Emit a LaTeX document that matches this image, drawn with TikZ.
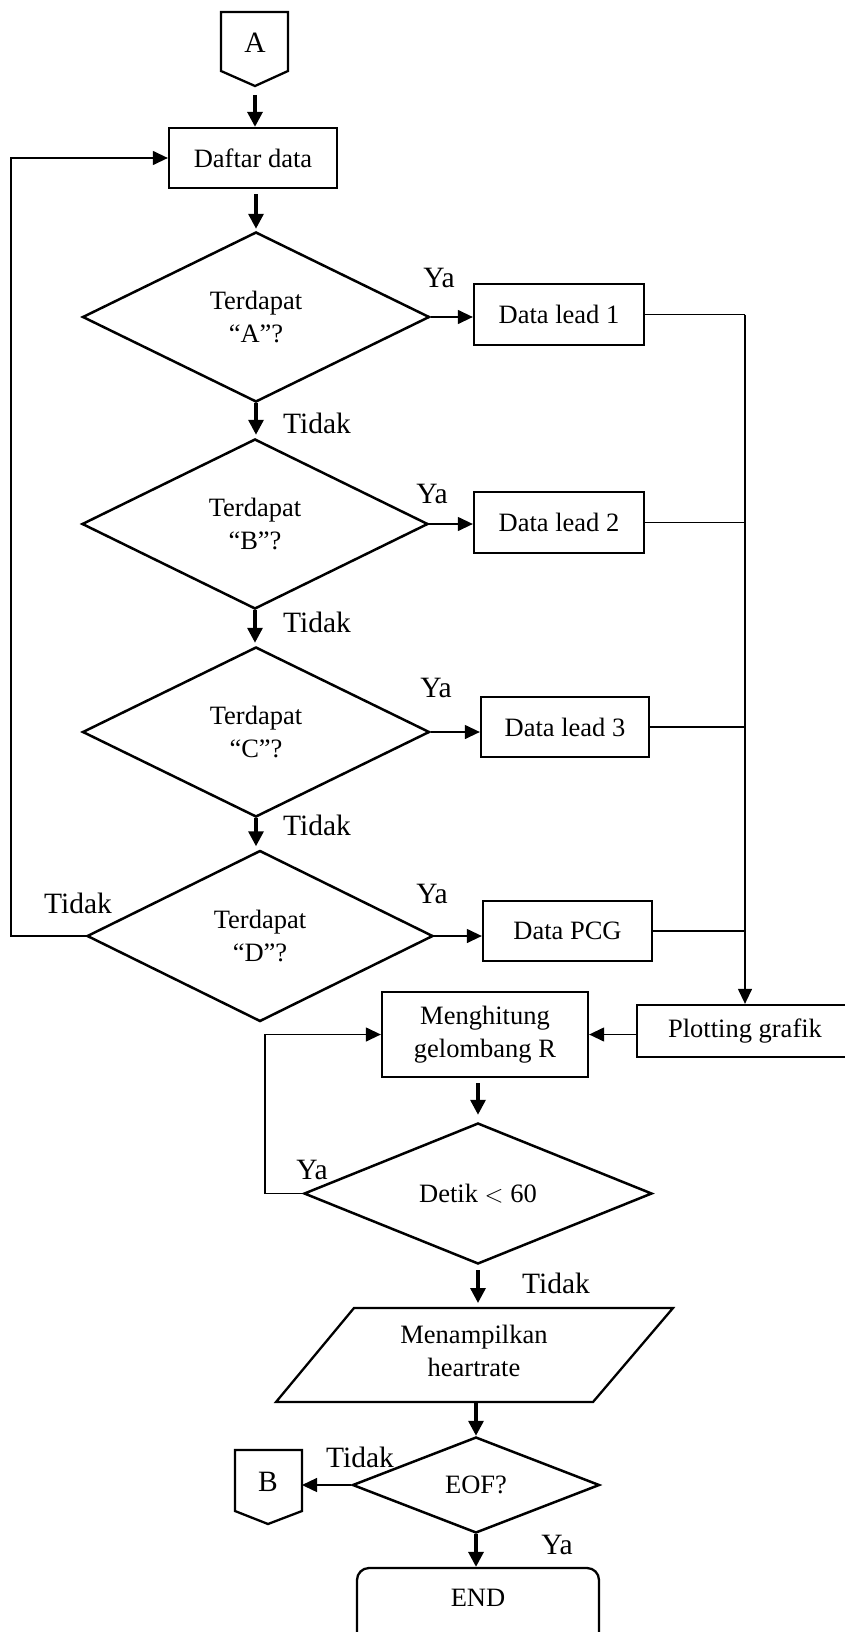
\documentclass[tikz,border=0pt]{standalone}
\usepackage{fontspec}
\setmainfont{Liberation Serif}
\usetikzlibrary{shapes.geometric,arrows.meta}
\newcommand\mainsz{\fontsize{26.5}{33}\selectfont}
\newcommand\lblsz{\fontsize{29.5}{34}\selectfont}
\tikzset{
  procbox/.style={draw, line width=2.3pt, inner sep=0pt, font=\mainsz, align=center},
  decision/.style={diamond, draw, line width=2.5pt, inner sep=0pt, aspect=2, font=\mainsz, align=center},
  lbl/.style={inner sep=0pt, font=\lblsz},
  thickarrow/.style={line width=3.3pt, -{Triangle[length=15pt,width=15pt]}},
  thinarrow/.style={line width=1.3pt, -{Triangle[length=15pt,width=14pt]}},
  thinline/.style={line width=1.3pt},
  outline/.style={draw, line width=2.3pt, line join=miter},
}
\begin{document}
\begin{tikzpicture}[x=1pt, y=-1pt]
\useasboundingbox (0,0) rectangle (845,1632);

% off-page connector A
\draw[outline] (221,12) -- (288,12) -- (288,71) -- (255,86) -- (221,71) -- cycle;
\node[lbl] (conA) at (255,43) {A};
\coordinate (conAtip) at (255,86);

% main chain
\node[procbox, minimum width=168pt, minimum height=60pt] (daftar) at (253,158) {Daftar data};

\node[decision, minimum width=347pt, minimum height=170pt] (diamA) at (256,317) {Terdapat\\“A”?};
\node[decision, minimum width=346pt, minimum height=170pt] (diamB) at (255,524) {Terdapat\\“B”?};
\node[decision, minimum width=347pt, minimum height=170pt] (diamC) at (256,732) {Terdapat\\“C”?};
\node[decision, minimum width=346pt, minimum height=171pt] (diamD) at (260,936) {Terdapat\\“D”?};

\node[procbox, minimum width=170pt, minimum height=61pt] (lead1) at (559,314.5) {Data lead 1};
\node[procbox, minimum width=170pt, minimum height=61pt] (lead2) at (559,522.5) {Data lead 2};
\node[procbox, minimum width=168pt, minimum height=60pt] (lead3) at (565,727) {Data lead 3};
\node[procbox, minimum width=169pt, minimum height=60pt] (pcg) at (567.5,931) {Data PCG};

\node[procbox, minimum width=216pt, minimum height=52pt] (plot) at (745,1031) {Plotting grafik};
\node[procbox, minimum width=206pt, minimum height=85pt] (mengh) at (485,1034.5) {Menghitung\\gelombang R};

\node[decision, minimum width=348pt, minimum height=141pt] (detik) at (478,1193.5) {Detik {$<$} 60};

% output parallelogram
\draw[outline] (354,1308) -- (673,1308) -- (593,1402) -- (276,1402) -- cycle;
\node[font=\mainsz, align=center, inner sep=0pt] (para) at (474,1351) {Menampilkan\\heartrate};
\coordinate (paraTop) at (478,1308);
\coordinate (paraBot) at (476,1402);

\node[decision, minimum width=247pt, minimum height=96pt] (eof) at (476,1485) {EOF?};

% off-page connector B
\draw[outline] (235,1450) -- (302,1450) -- (302,1511) -- (268,1524) -- (235,1511) -- cycle;
\node[lbl] (conB) at (268,1482) {B};
\coordinate (conBr) at (302,1485);

% terminator
\node[draw, line width=2.3pt, rounded corners=12pt, minimum width=242pt, minimum height=100pt] (endbox) at (478,1618) {};
\node[font=\mainsz, inner sep=0pt] (endtxt) at (478,1598) {END};

% vertical flow
\draw[thickarrow, shorten <=9pt] (conAtip) -- (conAtip |- daftar.north);
\draw[thickarrow, shorten <=5pt, shorten >=2pt] (diamA.north |- daftar.south) -- (diamA.north);
\draw[thickarrow, shorten >=3pt] (diamA.south) -- (diamA.south |- diamB.north);
\draw[thickarrow, shorten >=3pt] (diamB.south) -- (diamB.south |- diamC.north);
\draw[thickarrow, shorten >=3pt] (diamC.south) -- (diamC.south |- diamD.north);
\draw[thickarrow, shorten <=5pt, shorten >=7pt] (detik.north |- mengh.south) -- (detik.north);
\draw[thickarrow, shorten <=5pt, shorten >=5pt] (detik.south) -- (paraTop);
\draw[thickarrow] (paraBot) -- (eof.north);
\draw[thickarrow] (eof.south) -- (eof.south |- endbox.north);

% yes branches
\draw[thinarrow] (diamA.east) -- (diamA.east -| lead1.west);
\draw[thinarrow] (diamB.east) -- (diamB.east -| lead2.west);
\draw[thinarrow] (diamC.east) -- (diamC.east -| lead3.west);
\draw[thinarrow] (diamD.east) -- (diamD.east -| pcg.west);

% collecting bus to plotting
\coordinate (bus) at (745,314);
\draw[thinline] (lead1.east) -- (lead1.east -| bus);
\draw[thinline] (lead2.east) -- (lead2.east -| bus);
\draw[thinline] (lead3.east) -- (lead3.east -| bus);
\draw[thinline] (pcg.east) -- (pcg.east -| bus);
\draw[thinarrow] (lead1.east -| bus) -- (plot.north);
\draw[thinarrow] (plot.west |- mengh.east) -- (mengh.east);

% loops
\coordinate (loopL) at (11,936);
\draw[thinarrow] (diamD.west) -- (loopL) |- (daftar.west);
\coordinate (loopD) at (265,1193.5);
\draw[thinarrow] (detik.west) -- (loopD) |- (mengh.west);
\draw[thinarrow] (eof.west) -- (conBr);

% branch labels
\node[lbl] (yaA) at (439,278) {Ya};
\node[lbl] (tidakA) at (317,423) {Tidak};
\node[lbl] (yaB) at (432,494) {Ya};
\node[lbl] (tidakB) at (317,622) {Tidak};
\node[lbl] (yaC) at (436,688) {Ya};
\node[lbl] (tidakC) at (317,825) {Tidak};
\node[lbl] (yaD) at (432,894) {Ya};
\node[lbl] (tidakD) at (78,903) {Tidak};
\node[lbl] (yaDetik) at (312,1170) {Ya};
\node[lbl] (tidakDetik) at (556,1283) {Tidak};
\node[lbl] (tidakEOF) at (360,1457) {Tidak};
\node[lbl] (yaEOF) at (557,1545) {Ya};
\end{tikzpicture}
\end{document}
